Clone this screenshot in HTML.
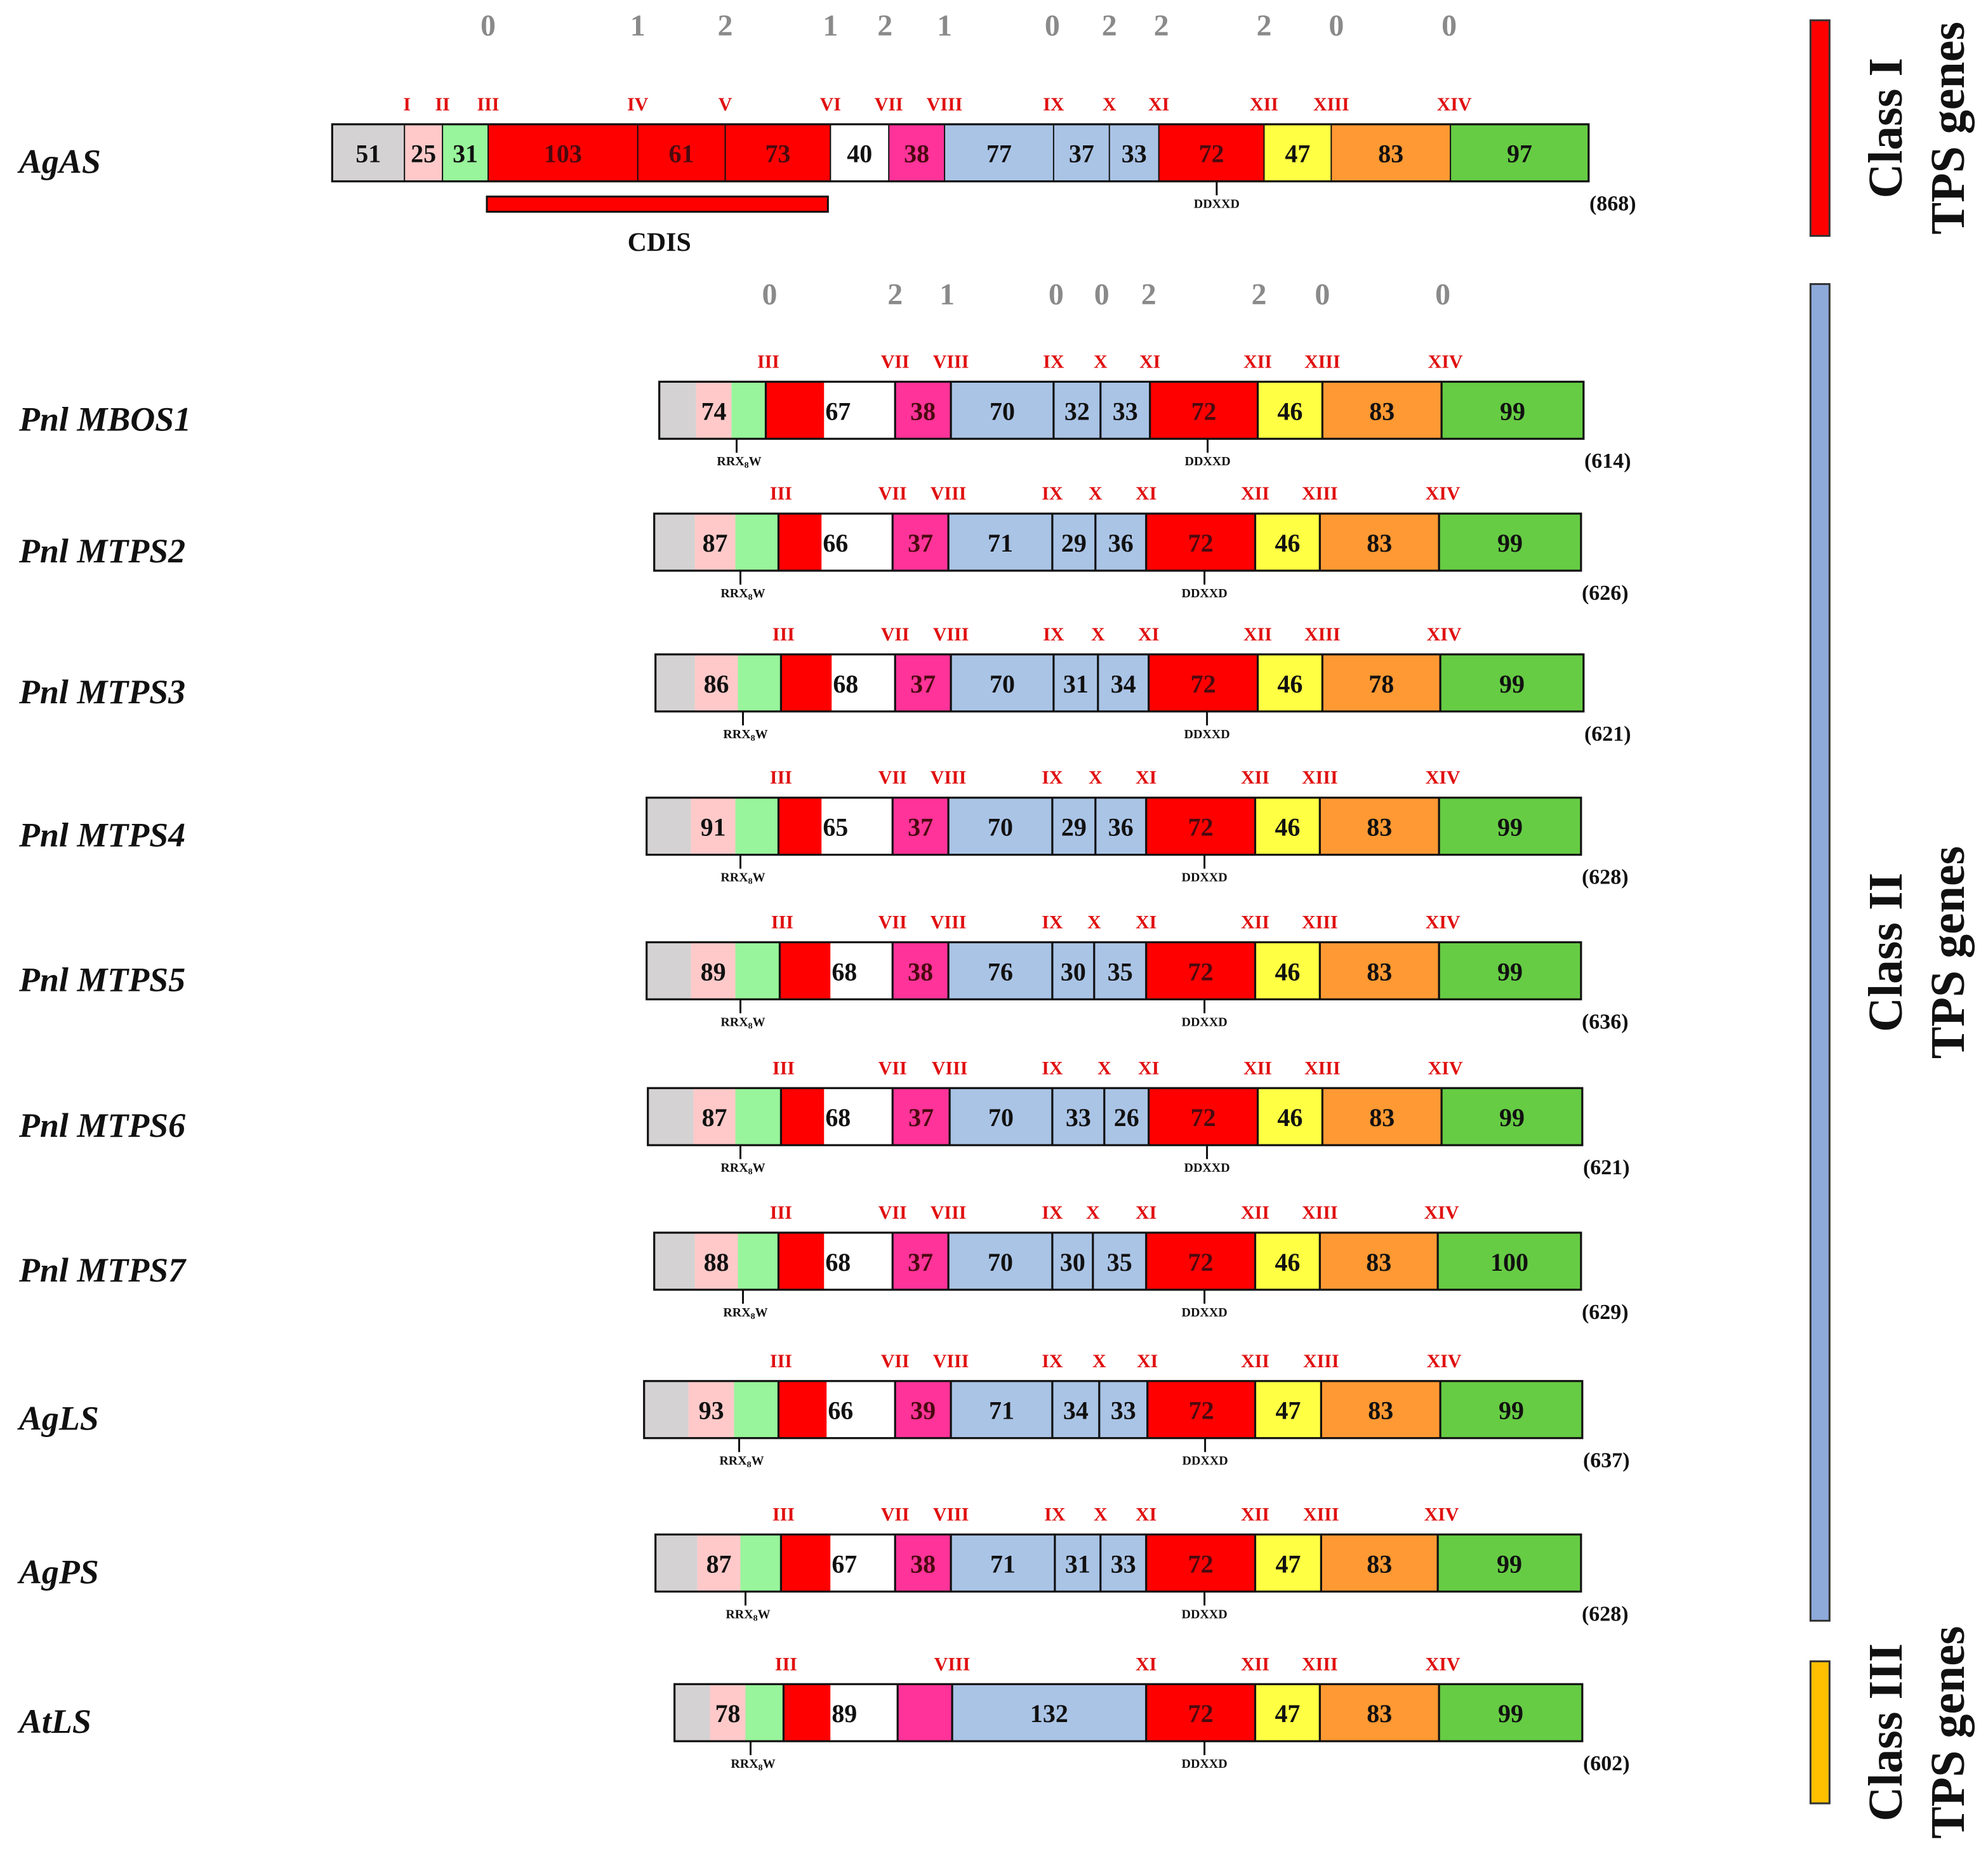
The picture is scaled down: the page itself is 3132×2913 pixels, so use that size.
<!DOCTYPE html>
<html><head><meta charset="utf-8"><style>
html,body{margin:0;padding:0;background:#fff;}
svg{display:block;font-family:"Liberation Serif",serif;font-weight:bold;}
</style></head><body>
<svg id="c" width="3132" height="2913" viewBox="0 0 1568 1458" preserveAspectRatio="none" xmlns="http://www.w3.org/2000/svg"></svg>
<script>
const rowNames=["AgAS","Pnl MBOS1","Pnl MTPS2","Pnl MTPS3","Pnl MTPS4","Pnl MTPS5","Pnl MTPS6","Pnl MTPS7","AgLS","AgPS","AtLS"];
const rowTops=[98,301,405,516,629,743,858,972,1089,1210,1328];
const rowLengths=["(868)","(614)","(626)","(621)","(628)","(636)","(621)","(629)","(637)","(628)","(602)"];
const typesAgAS=["gray","pink","lgreen","red","red","red","white","mag","blue","blue","blue","red","yel","org","grn"];
const typesII=["gray","pink","lgreen","red","white","mag","blue","blue","blue","red","yel","org","grn"];
const typesAt=["gray","pink","lgreen","red","white","mag","blue","red","yel","org","grn"];
const rowEdges=[
[262,319,349,385,503,572,655,701,745,831,875,914,997,1050,1144,1253],
[520,549,577,604,650,706,750,831,868,907,992,1043,1137,1249],
[516,548,580,614,648,704,748,830,864,904,990,1041,1135,1247],
[517,548,582,616,656,706,750,831,866,906,992,1043,1136,1249],
[510,545,580,614,648,704,748,830,864,904,990,1041,1135,1247],
[510,545,580,615,655,704,748,830,863,904,990,1041,1135,1247],
[511,547,580,616,650,704,749,830,871,906,992,1043,1137,1248],
[516,548,582,614,650,704,748,830,862,904,990,1041,1134,1247],
[508,543,579,614,652,706,750,830,867,905,990,1042,1136,1248],
[517,550,584,616,655,706,750,832,868,904,990,1042,1134,1247],
[532,560,588,618,655,708,751,904,990,1041,1135,1248]];
const rowLabels=[
["51","25","31","103","61","73","40","38","77","37","33","72","47","83","97"],
["","74","","","67","38","70","32","33","72","46","83","99"],
["","87","","","66","37","71","29","36","72","46","83","99"],
["","86","","","68","37","70","31","34","72","46","78","99"],
["","91","","","65","37","70","29","36","72","46","83","99"],
["","89","","","68","38","76","30","35","72","46","83","99"],
["","87","","","68","37","70","33","26","72","46","83","99"],
["","88","","","68","37","70","30","35","72","46","83","100"],
["","93","","","66","39","71","34","33","72","47","83","99"],
["","87","","","67","38","71","31","33","72","47","83","99"],
["","78","","","89","","132","72","47","83","99"]];
const romanAgAS=["I","II","III","IV","V","VI","VII","VIII","IX","X","XI","XII","XIII","XIV"];
const romanAgASIdx=[1,2,3,4,5,6,7,8,9,10,11,12,13,14];
const romanII=["III","VII","VIII","IX","X","XI","XII","XIII","XIV"];
const romanIIIdx=[3,5,6,7,8,9,10,11,12];
const romanAt=["III","VIII","XI","XII","XIII","XIV"];
const romanAtIdx=[3,6,7,8,9,10];
const topNums1=["0","1","2","1","2","1","0","2","2","2","0","0"];
const topNums1X=[385,503,572,655,698,745,830,875,916,997,1054,1143];
const topNums2=["0","2","1","0","0","2","2","0","0"];
const topNums2X=[607,706,747,833,869,906,993,1043,1138];
const colors={gray:"#d4d2d3",pink:"#ffc9c9",lgreen:"#98f59b",red:"#ff0000",white:"#ffffff",mag:"#ff3399",blue:"#aac4e6",yel:"#ffff44",org:"#ff9933",grn:"#66cc44"};
const svg=document.getElementById('c');
const NS="http://www.w3.org/2000/svg";
function mk(tag,attrs,parent){const e=document.createElementNS(NS,tag);for(const k in attrs)e.setAttribute(k,attrs[k]);(parent||svg).appendChild(e);return e;}
function txt(s,x,y,size,fill,anchor,parent,extra){const t=mk('text',Object.assign({x:x,y:y,'font-size':size,fill:fill,'text-anchor':anchor||'middle'},extra||{}),parent);t.textContent=s;return t;}
const H=45;
rowNames.forEach((name,r)=>{
  const g=mk('g',{});
  
  
  const y=rowTops[r], ed=rowEdges[r], labs=rowLabels[r];
  const types=r===0?typesAgAS:(r===10?typesAt:typesII);
  types.forEach((tp,i)=>{
    const rc=mk('rect',{x:ed[i],y:y,width:ed[i+1]-ed[i],height:H,fill:colors[tp]},g);
    
    
  });
  types.forEach((tp,i)=>{
    if(i===0)return;
    let draw=true;
    if(r>0&&(i===1||i===2||i===4))draw=false;
    if(draw)mk('line',{x1:ed[i],y1:y,x2:ed[i],y2:y+H,stroke:'#111','stroke-width':r===0?1:1.6},g);
  });
  mk('rect',{x:ed[0],y:y,width:ed[ed.length-1]-ed[0],height:H,fill:'none',stroke:'#111','stroke-width':1.6},g);
  labs.forEach((l,i)=>{
    if(!l)return;
    let x=(ed[i]+ed[i+1])/2;
    if(r>0&&i===4)x=ed[i]+11;
    const tp=types[i];
    const fill=(tp==='red'||tp==='mag')?'#4a0a10':'#111';
    txt(l,x,y+30,20,fill,'middle',g);
  });
  const rn=r===0?romanAgAS:(r===10?romanAt:romanII);
  const ri=r===0?romanAgASIdx:(r===10?romanAtIdx:romanIIIdx);
  rn.forEach((s,k)=>{
    let x=ed[ri[k]];
    if(s==='III'&&r>0)x+=2;
    if(s==='XIV')x+=3;
    if(s==='I')x+=2;
    txt(s,x,y-11,15,'#e01010','middle',g);
  });
  const redIdx=r===0?11:(r===10?7:9);
  const dx=r===0?ed[redIdx]+(ed[redIdx+1]-ed[redIdx])*0.55:(ed[redIdx]+ed[redIdx+1])/2+3;
  mk('line',{x1:dx,y1:y+H,x2:dx,y2:y+H+11,stroke:'#111','stroke-width':1.5},g);
  txt('DDXXD',dx,y+H+21,10,'#111','middle',g);
  if(r>0){
    const rx=ed[2]+4;
    mk('line',{x1:rx,y1:y+H,x2:rx,y2:y+H+11,stroke:'#111','stroke-width':1.5},g);
    const t=txt('RRX',rx+2,y+H+21,10,'#111','middle',g);
    const s1=mk('tspan',{'font-size':7,dy:2},t);s1.textContent='8';
    const s2=mk('tspan',{dy:-2},t);s2.textContent='W';
  }
  txt(rowLengths[r],ed[ed.length-1]+19,y+H+23,17,'#111','middle',g);
  const nm=txt(name,15,y+H/2+16,27,'#111','start',g,{'font-style':'italic'});
  
  
});
topNums1.forEach((s,i)=>{const t=txt(s,topNums1X[i],28,24,'#8a8a8a','middle');});
topNums2.forEach((s,i)=>{const t=txt(s,topNums2X[i],240,24,'#8a8a8a','middle');});
const cd=mk('rect',{x:384,y:155,width:269,height:12,fill:'#ff0000',stroke:'#111','stroke-width':1.5});

txt('CDIS',520,198,21,'#111','middle');
const classBars=[["Class I","TPS genes",16,186,"#ff0000"],["Class II","TPS genes",224,1278,"#8eaadb"],["Class III","TPS genes",1310,1422,"#ffc000"]];
classBars.forEach(cb=>{
  const b=mk('rect',{x:1428,y:cb[2],width:15,height:cb[3]-cb[2],fill:cb[4],stroke:'#333','stroke-width':1.5});
  
  const cy=(cb[2]+cb[3])/2;
  txt(cb[0],1500,cy,38,'#111','middle',null,{transform:'rotate(-90 1500 '+cy+')'});
  txt(cb[1],1549,cy,38,'#111','middle',null,{transform:'rotate(-90 1549 '+cy+')'});
});
</script>
</body></html>
